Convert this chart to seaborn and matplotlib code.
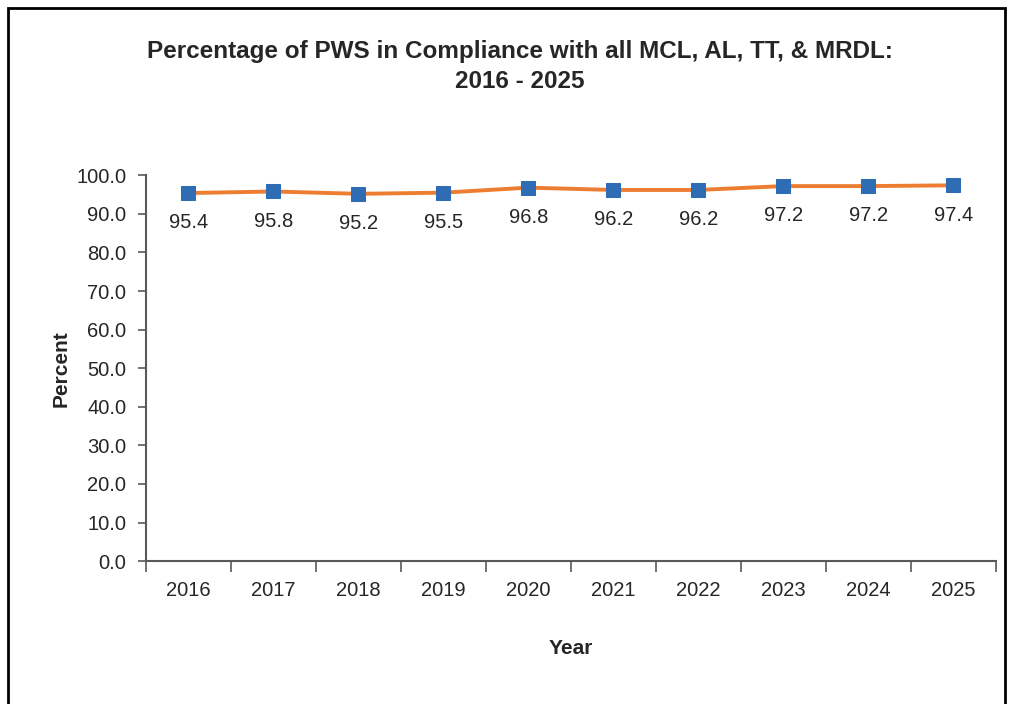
import matplotlib
matplotlib.use("Agg")
import pandas as pd
import seaborn as sns
import matplotlib.pyplot as plt
from matplotlib.patches import Rectangle
from matplotlib.ticker import FixedLocator

# values
years = [2016, 2017, 2018, 2019, 2020, 2021, 2022, 2023, 2024, 2025]
percent = [95.4, 95.8, 95.2, 95.5, 96.8, 96.2, 96.2, 97.2, 97.2, 97.4]
y_ticks = [0, 10, 20, 30, 40, 50, 60, 70, 80, 90, 100]

df = pd.DataFrame({'Year': years, 'Percent': percent})

sns.set_style('white')
plt.rcParams['font.family'] = ['Liberation Sans', 'DejaVu Sans']

fig = plt.figure(figsize=(10.13, 7.04), dpi=100)
ax = fig.add_axes([0.144, 0.203, 0.839, 0.548])

sns.lineplot(data=df, x='Year', y='Percent', ax=ax, color='#ED7D31', linewidth=2.8,
             marker='s', markersize=10, markerfacecolor='#2E6DB4', markeredgecolor='#2E6DB4')

# data labels below each point
for yr, v in zip(years, percent):
    ax.annotate(f'{v:.1f}', (yr, v), xytext=(0, -21.5), textcoords='offset points',
                ha='center', va='center', fontsize=14.5, color='#262626')

ax.set_ylim(0, 100)
ax.set_xlim(years[0] - 0.5, years[-1] + 0.5)
ax.set_yticks(y_ticks)
ax.set_yticklabels([f'{t:.1f}' for t in y_ticks])
ax.set_xticks(years)
ax.set_xticklabels([str(y) for y in years])
ax.xaxis.set_minor_locator(FixedLocator([y + 0.5 for y in [years[0] - 1] + years]))

ax.tick_params(axis='y', which='major', left=True, direction='out', length=6, width=1.2,
               color='#595959', labelsize=14.5, labelcolor='#262626', pad=8)
ax.tick_params(axis='x', which='major', bottom=False, labelsize=14.5, labelcolor='#262626', pad=11)
ax.tick_params(axis='x', which='minor', bottom=True, direction='out', length=8, width=1.2,
               color='#595959')

for s in ['top', 'right']:
    ax.spines[s].set_visible(False)
for s in ['left', 'bottom']:
    ax.spines[s].set_color('#595959')
    ax.spines[s].set_linewidth(1.5)

ax.set_xlabel('Year', fontsize=15, fontweight='bold', labelpad=28)
ax.set_ylabel('Percent', fontsize=15, fontweight='bold', labelpad=4)

fig.text(0.513, 0.905, 'Percentage of PWS in Compliance with all MCL, AL, TT, & MRDL:\n2016 - 2025',
         ha='center', va='center', fontsize=17.5, fontweight='bold', linespacing=1.4)

# outer chart border (cropped at the bottom in the reference)
fig.patches.append(Rectangle((8 / 1013, -0.05), 997 / 1013, 1 - 8 / 704 + 0.05,
                             transform=fig.transFigure, fill=False, edgecolor='black',
                             linewidth=2, clip_on=False))

fig.savefig('out.png', dpi=100)
